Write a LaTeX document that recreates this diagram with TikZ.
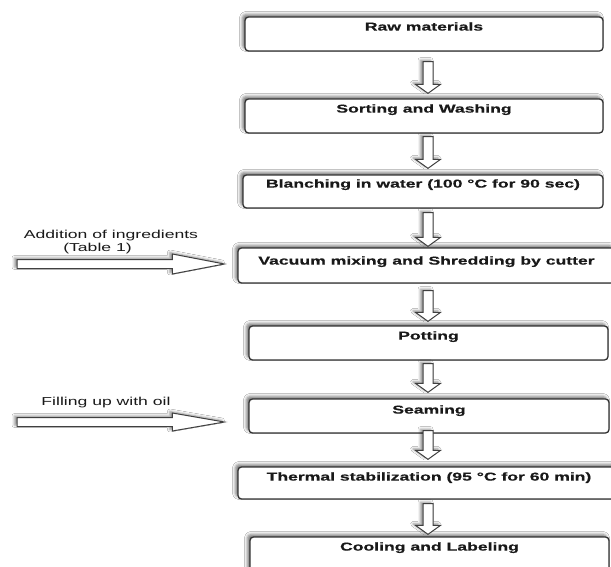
\documentclass[tikz,border=0pt]{standalone}
\usepackage{fontspec}
\setmainfont{Liberation Sans}[BoldFeatures={FakeBold=0.4}]
\usetikzlibrary{calc,shadows.blur}
\newcommand\wide[1]{\scalebox{1.53}[1]{#1}}
\newcommand\flowarr[4]{%
  \path[blockarr] let \p1=(#1.south), \p2=(#2.north) in
    (423pt,{\y1-#3pt}) -- (433pt,{\y1-#3pt}) -- (433pt,{\y2+#4pt+9pt})
    -- (440.5pt,{\y2+#4pt+9pt}) -- (428pt,{\y2+#4pt}) -- (415.5pt,{\y2+#4pt+9pt})
    -- (423pt,{\y2+#4pt+9pt}) -- cycle;}
\newcommand\sidearr[5]{%
  \path[blockarr] let \p1=(#1), \p2=(#2.west) in
    (\x1,{\y1+#4pt}) -- ({\x2-#3pt-52pt},{\y1+#4pt}) -- ({\x2-#3pt-52pt},{\y1+#5pt})
    -- ({\x2-#3pt},\y1) -- ({\x2-#3pt-52pt},{\y1-#5pt}) -- ({\x2-#3pt-52pt},{\y1-#4pt})
    -- (\x1,{\y1-#4pt}) -- cycle;}
\tikzset{
  procbox/.style={draw=black!80, line width=1.3pt, rounded corners=3.5pt, fill=white,
    inner sep=0pt, blur shadow={shadow xshift=-2.5pt, shadow yshift=2.5pt,
    shadow blur radius=3pt, shadow opacity=55}},
  boxtext/.style={font=\fontsize{11.5}{13}\selectfont\bfseries, text=black!90, inner sep=0pt,
    text height=8.5pt, text depth=2pt},
  sidetext/.style={font=\fontsize{11.5}{13}\selectfont, text=black!90, inner sep=0pt,
    text height=8.5pt, text depth=2pt},
  blockarr/.style={draw=black!75, line width=1pt, fill=white, line join=miter,
    blur shadow={shadow xshift=-2.5pt, shadow yshift=1.5pt,
    shadow blur radius=2.5pt, shadow opacity=45}},
}
\begin{document}
\begin{tikzpicture}[x=1pt,y=-1pt]
\clip (0,0) rectangle (611,567);
\fill[white] (0,0) rectangle (611,567);
% boxes
\node[procbox, minimum width=358pt, minimum height=34pt] (b1) at (424,34) {};
\node[procbox, minimum width=358pt, minimum height=34pt] (b2) at (424,116) {};
\node[procbox, minimum width=360pt, minimum height=33pt] (b3) at (423,191.5) {};
\node[procbox, minimum width=377pt, minimum height=35pt] (b4) at (426.5,265.5) {};
\node[procbox, minimum width=359pt, minimum height=34pt] (b5) at (428.5,343) {};
\node[procbox, minimum width=360pt, minimum height=34pt] (b6) at (429,416) {};
\node[procbox, minimum width=382pt, minimum height=32pt] (b7) at (429,483) {};
\node[procbox, minimum width=359pt, minimum height=38pt] (b8) at (429.5,556) {};
% box texts
\node[boxtext] (t1) at ([yshift=-11pt]b1.north) {\wide{Raw materials}};
\node[boxtext] (t2) at ([yshift=-11pt]b2.north) {\wide{Sorting and Washing}};
\node[boxtext] (t3) at ([yshift=-10pt]b3.north) {\wide{Blanching in water (100 °C for 90 sec)}};
\node[boxtext] (t4) at ([yshift=-14pt]b4.north) {\wide{Vacuum mixing and Shredding by cutter}};
\node[boxtext] (t5) at ([yshift=-11pt]b5.north) {\wide{Potting}};
\node[boxtext] (t6) at ([yshift=-12pt]b6.north) {\wide{Seaming}};
\node[boxtext] (t7) at ([yshift=-11pt]b7.north) {\wide{Thermal stabilization (95 °C for 60 min)}};
\node[boxtext] (t8) at ([yshift=-11pt]b8.north) {\wide{Cooling and Labeling}};
% down arrows
\flowarr{b1}{b2}{10}{5}
\flowarr{b2}{b3}{3}{6}
\flowarr{b3}{b4}{4}{1}
\flowarr{b4}{b5}{7}{4}
\flowarr{b5}{b6}{3}{6}
\flowarr{b6}{b7}{-3}{7}
\flowarr{b7}{b8}{4}{2}
% side inputs
\coordinate (addsrc) at (17,264);
\coordinate (oilsrc) at (17,422);
\sidearr{addsrc}{b4}{13}{4.5}{10}
\sidearr{oilsrc}{b6}{24}{4.5}{9}
\node[sidetext] (l1) at (111,235) {\wide{Addition of ingredients}};
\node[sidetext] (l2) at (97.5,248) {\wide{(Table 1)}};
\node[sidetext] (l3) at (106,402) {\wide{Filling up with oil}};
\end{tikzpicture}
\end{document}
